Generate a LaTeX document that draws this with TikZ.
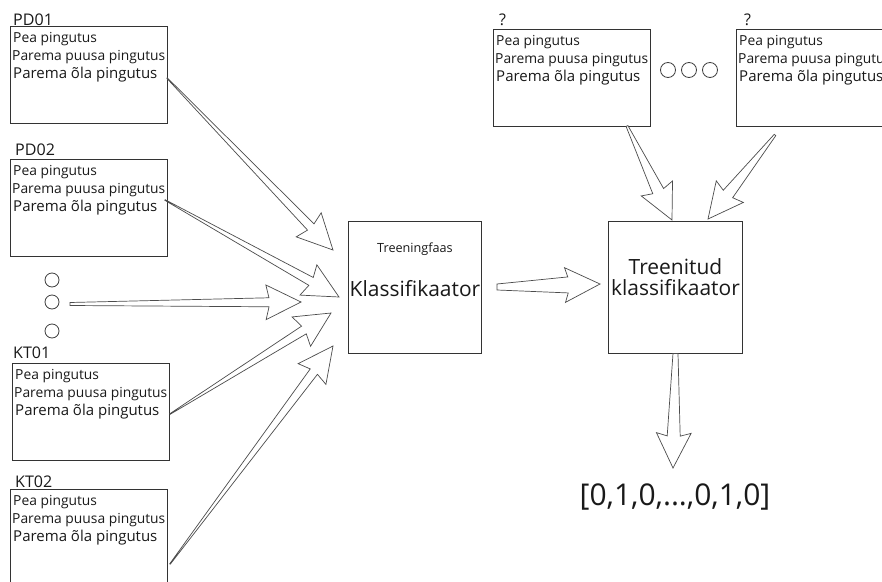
\documentclass[tikz,border=0pt]{standalone}
\usepackage{fontspec}
\setmainfont{Open Sans}
\usetikzlibrary{calc}

\tikzset{
  databox/.style={draw=black!80, line width=0.8pt, inner sep=0pt, minimum width=4.71cm, minimum height=2.91cm},
  procbox/.style={draw=black!80, line width=0.8pt, inner sep=0pt, minimum width=4.0cm, minimum height=3.96cm},
  tagtext/.style={inner sep=0pt, text=black!90, font=\fontsize{13.7}{16}\selectfont},
  smalltext/.style={inner sep=0pt, text=black!90, font=\fontsize{11.8}{14}\selectfont},
  bigtext/.style={inner sep=0pt, text=black!90, font=\fontsize{12.8}{15}\selectfont},
  bigarrow/.style={draw=black!70, line width=0.6pt, fill=white, line join=miter},
  dotmark/.style={draw=black!75, line width=0.7pt}
}

% hollow arrow: #1 tail half width, #2 shaft half width, #3 tail, #4 tip
\newcommand{\hollowarrow}[4]{%
  \coordinate (hj) at ($(#4)!0.96cm!(#3)$);
  \coordinate (hb) at ($(#4)!1.05cm!(#3)$);
  \draw[bigarrow] ($(#3)!#1!90:(#4)$) -- ($(hj)!#2!-90:(#3)$) -- ($(hb)!0.52cm!-90:(#3)$)
    -- (#4) -- ($(hb)!0.52cm!90:(#3)$) -- ($(hj)!#2!90:(#3)$) -- ($(#3)!#1!-90:(#4)$) -- cycle;
}

\begin{document}
\begin{tikzpicture}[x=0.03cm, y=-0.03cm]
    \useasboundingbox (0,0) rectangle (882,582);
    \clip (0,0) rectangle (882,582);

    % Exercise boxes
    \foreach \name/\lbl/\bx/\by/\lx/\ly in {pd1/PD01/10/26/13/25, pd2/PD02/10/159/15/155,
        kt1/KT01/12/363/13/358, kt2/KT02/10/489/15/487, top1/?/493/29/499/25, top2/?/736/29/744/25} {
        \node[databox, anchor=north west] (\name) at (\bx,\by) {};
        \node[tagtext, anchor=base west] (\name-tag) at (\lx,\ly) {\lbl};
        \node[smalltext, anchor=base west] (\name-l1) at (\bx+3,\by+16) {Pea pingutus};
        \node[smalltext, anchor=base west] (\name-l2) at (\bx+2,\by+34) {Parema puusa pingutus};
        \node[bigtext, anchor=base west] (\name-l3) at (\bx+3,\by+52) {Parema õla pingutus};
    }

    % Dots between the boxes
    \foreach \y in {280,302,331}
        \draw[dotmark] (52,\y) circle (7);
    \foreach \x in {668,689,710}
        \draw[dotmark] (\x,70) circle (7.5);

    % Classifier in training
    \node[procbox] (klass) at (415,287) {};
    \node[inner sep=0pt, text=black!90, font=\fontsize{10.8}{13}\selectfont, anchor=base] (phase) at (415,252) {Treeningfaas};
    \node[inner sep=0pt, text=black!90, font=\fontsize{17.9}{21}\selectfont, anchor=base] (klass-txt) at (415,296) {Klassifikaator};

    % Trained classifier
    \node[procbox] (trained) at (675.5,287) {};
    \node[inner sep=0pt, text=black!90, font=\fontsize{17.9}{21}\selectfont, anchor=base] (trained-a) at (675.5,274) {Treenitud};
    \node[inner sep=0pt, text=black!90, font=\fontsize{17.9}{21}\selectfont, anchor=base] (trained-b) at (675.5,295) {klassifikaator};

    % Result vector
    \node[inner sep=0pt, text=black!90, font=\fontsize{25.6}{30}\selectfont, anchor=base] (result) at (675,505) {[0,1,0,...,0,1,0]};

    % Arrow ends
    \coordinate (pd1-out) at (167,78);
    \coordinate (pd2-out) at (165,200);
    \coordinate (dots-out) at (70,304);
    \coordinate (kt1-out) at (170,414);
    \coordinate (kt2-out) at (170,564);
    \coordinate (k1) at (333,250);
    \coordinate (k2) at (339,297);
    \coordinate (k3) at (301,302);
    \coordinate (k4) at (331,313);
    \coordinate (k5) at (333,346);
    \coordinate (klass-out) at (497,287);
    \coordinate (trained-in) at (600,284);
    \coordinate (top1-out) at (627,126);
    \coordinate (top2-out) at (775,135);
    \coordinate (trained-top1) at (672,220);
    \coordinate (trained-top2) at (708,219);
    \coordinate (result-in) at (673,468);

    % Training arrows
    \hollowarrow{0.01cm}{0.135cm}{pd1-out}{k1}
    \hollowarrow{0.01cm}{0.135cm}{pd2-out}{k2}
    \hollowarrow{0.045cm}{0.135cm}{dots-out}{k3}
    \hollowarrow{0.01cm}{0.135cm}{kt1-out}{k4}
    \hollowarrow{0.01cm}{0.135cm}{kt2-out}{k5}

    % Classifier arrows
    \hollowarrow{0.09cm}{0.24cm}{klass-out}{trained-in}
    \hollowarrow{0.03cm}{0.18cm}{top1-out}{trained-top1}
    \hollowarrow{0.03cm}{0.18cm}{top2-out}{trained-top2}
    \hollowarrow{0.075cm}{0.195cm}{trained.south}{result-in}

\end{tikzpicture}
\end{document}
